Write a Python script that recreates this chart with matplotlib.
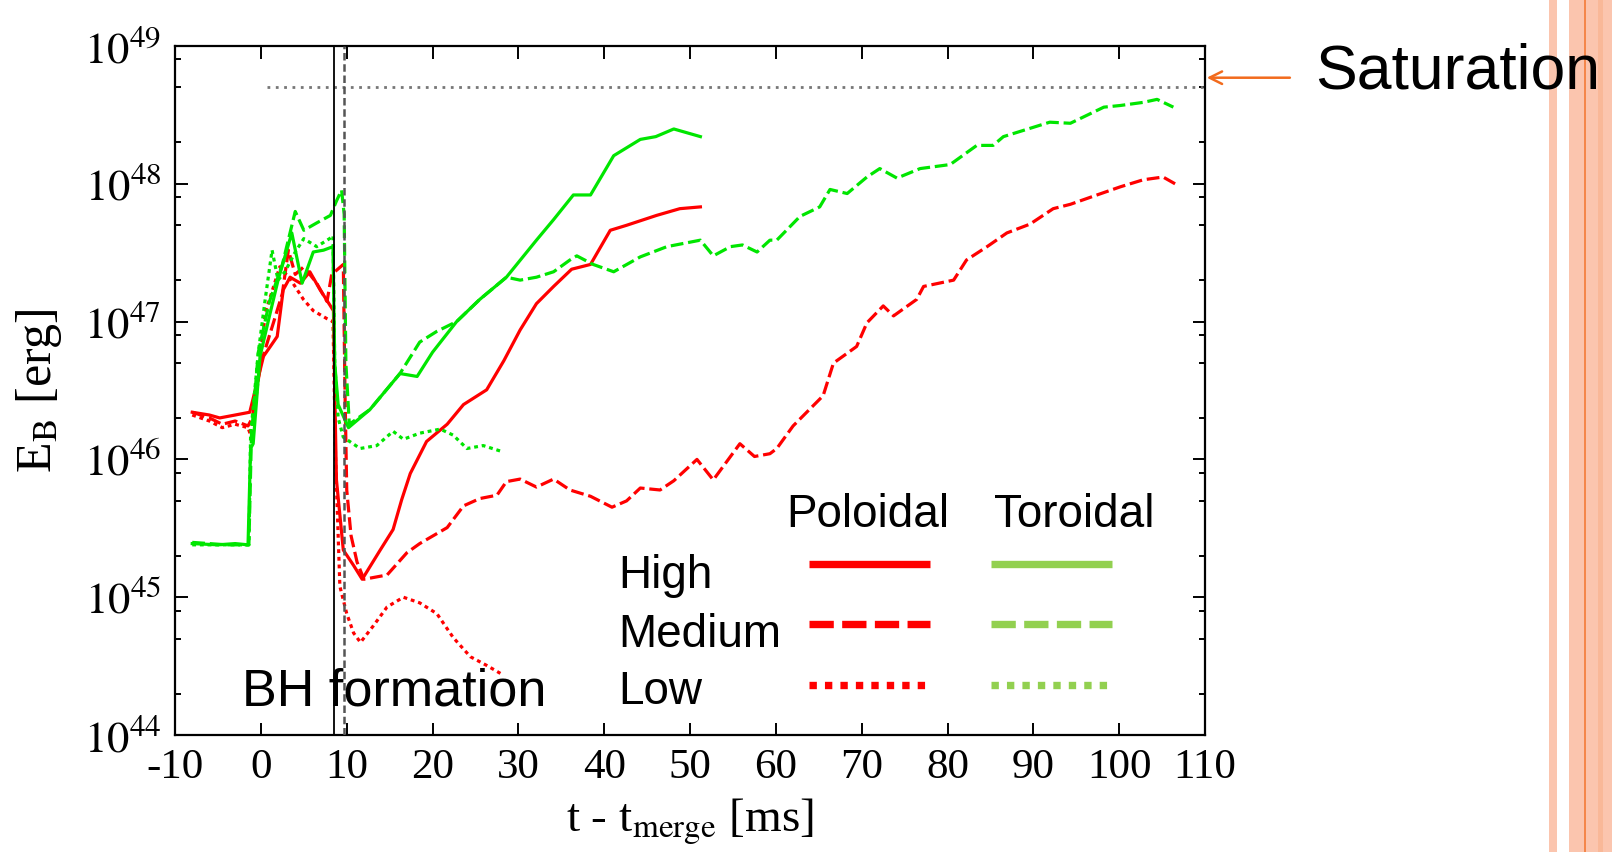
import numpy as np
import matplotlib.pyplot as plt
from matplotlib.patches import Rectangle
from matplotlib.lines import Line2D
from matplotlib.ticker import FixedLocator, LogLocator, NullFormatter

plt.rcParams['mathtext.fontset'] = 'stix'
plt.rcParams['font.family'] = ['Liberation Serif', 'DejaVu Serif']

# Poloidal energy, High / Medium / Low resolution (t in ms, E in erg)
t_pol_high = [-8, -6, -4.8, -3, -1.3, -0.5, 0.3, 1.1, 1.9, 2.6, 3.4, 4.6, 5.7, 6.9, 8.1, 8.45,
              8.6, 8.8, 9.6, 10.8, 11.8, 13.9, 15.4, 16.4, 17.4, 19.3, 21.7, 23.6, 26.3, 28.3,
              30.2, 32.1, 34.1, 36.2, 38.4, 40.7, 42.6, 46.1, 48.8, 51.2]
pol_high = [2.2e46, 2.1e46, 2.0e46, 2.1e46, 2.2e46, 3.5e46, 5.6e46, 6.6e46, 7.8e46, 1.7e47,
            2.1e47, 1.9e47, 2.3e47, 1.7e47, 1.3e47, 1.2e47, 3.2e46, 7.1e45, 2.2e45, 1.7e45,
            1.35e45, 2.2e45, 3.1e45, 5.1e45, 7.9e45, 1.35e46, 1.8e46, 2.5e46, 3.2e46, 5.2e46,
            8.7e46, 1.35e47, 1.8e47, 2.4e47, 2.6e47, 4.6e47, 5.0e47, 5.9e47, 6.6e47, 6.8e47]

t_pol_med = [-8, -6, -4.5, -3, -1.5, -1, 0, 1.5, 2.5, 3.2, 4.0, 5.0, 6.5, 7.7, 8.25, 9.6, 9.8,
             10.0, 10.5, 11.2, 12.0, 14.7, 17.0, 18.5, 21.7, 23.6, 25.5, 27.5, 28.6, 30.2, 32.1,
             34.1, 36.0, 38.4, 40.9, 42.6, 44.2, 46.5, 48.1, 50.8, 52.7, 55.8, 57.5, 59.3, 60.1,
             62.0, 65.5, 66.7, 69.4, 70.6, 72.5, 73.7, 76.4, 77.2, 80.7, 82.2, 84.6, 86.9, 89.6,
             92.3, 94.3, 97.4, 100.1, 102.8, 105.1, 106.5]
pol_med = [2.2e46, 2.0e46, 1.8e46, 1.9e46, 1.75e46, 2.0e46, 5e46, 1e47, 1.6e47, 3.3e47, 2.2e47,
           2.5e47, 1.9e47, 1.4e47, 2.2e47, 2.6e47, 3e46, 6e45, 2.8e45, 1.8e45, 1.35e45, 1.45e45,
           2.1e45, 2.45e45, 3.2e45, 4.6e45, 5.2e45, 5.5e45, 6.9e45, 7.2e45, 6.3e45, 7.2e45,
           6.0e45, 5.4e45, 4.5e45, 5.0e45, 6.2e45, 6.0e45, 7.0e45, 1.0e46, 7.1e45, 1.3e46,
           1.05e46, 1.1e46, 1.2e46, 1.75e46, 2.9e46, 5.0e46, 6.6e46, 9.8e46, 1.3e47, 1.1e47,
           1.45e47, 1.8e47, 2.0e47, 2.8e47, 3.5e47, 4.4e47, 5.1e47, 6.6e47, 7.1e47, 8.3e47,
           9.5e47, 1.07e48, 1.12e48, 1.0e48]

t_pol_low = [-8, -6, -4.5, -3, -1.5, -1.2, -0.5, 0.5, 2.2, 3.5, 4.95, 6.1, 7.7, 8.4, 8.7, 9.2,
             10.0, 10.8, 11.6, 13.1, 14.7, 16.6, 18.5, 20.5, 22.4, 24.4, 26.3, 27.9]
pol_low = [2.1e46, 1.9e46, 1.7e46, 1.8e46, 1.7e46, 1.5e46, 3e46, 1.15e47, 2.5e47, 2.0e47,
           1.45e47, 1.2e47, 1.05e47, 1.0e47, 1e46, 1.2e45, 7.6e44, 5.5e44, 4.7e44, 6.2e44,
           8.5e44, 1.0e45, 9.1e44, 7.6e44, 5.1e44, 3.7e44, 3.2e44, 2.8e44]

# Toroidal energy, High / Medium / Low resolution
t_tor_high = [-8, -5, -3, -1.5, -1.2, -0.9, -0.1, 1.0, 2.0, 3.6, 4.8, 6.1, 7.3, 8.4, 8.6, 9.0,
              10.2, 12.7, 16.2, 18.2, 20.0, 22.8, 25.5, 28.6, 32.1, 34.1, 36.4, 38.4, 41.1,
              44.2, 46.0, 48.1, 51.2]
tor_high = [2.45e45, 2.4e45, 2.45e45, 2.4e45, 1.2e46, 1.3e46, 5.6e46, 1.1e47, 2.0e47, 4.4e47,
            1.9e47, 3.2e47, 3.3e47, 3.5e47, 5e46, 2.5e46, 1.7e46, 2.3e46, 4.2e46, 4.0e46,
            6.0e46, 1.0e47, 1.45e47, 2.1e47, 3.9e47, 5.5e47, 8.3e47, 8.3e47, 1.6e48, 2.1e48,
            2.2e48, 2.5e48, 2.2e48]

t_tor_med = [-8, -4, -1.4, -1.1, -0.3, 1.0, 2.5, 4.0, 5.0, 6.5, 8.1, 8.8, 9.4, 9.7, 9.9, 10.3,
             12.7, 16.2, 18.5, 20.5, 22.8, 25.5, 28.6, 30.2, 32.1, 34.1, 36.0, 36.8, 38.7, 41.1,
             44.2, 47.3, 51.2, 52.7, 54.7, 56.1, 57.8, 59.3, 60.1, 62.8, 65.1, 66.3, 68.3, 70.6,
             72.1, 74.1, 76.8, 80.3, 83.4, 85.3, 86.5, 91.9, 94.3, 98.2, 100.1, 102.8, 104.4,
             106.3]
tor_med = [2.5e45, 2.4e45, 2.4e45, 1.5e46, 6e46, 1.4e47, 2.6e47, 6.3e47, 4.6e47, 5.2e47,
           5.9e47, 7.5e47, 9e47, 6e47, 5e46, 1.8e46, 2.3e46, 4.2e46, 7.1e46, 8.5e46, 1.0e47,
           1.45e47, 2.1e47, 2.0e47, 2.1e47, 2.3e47, 2.8e47, 3.0e47, 2.6e47, 2.3e47, 2.95e47,
           3.5e47, 3.9e47, 3.0e47, 3.5e47, 3.6e47, 3.2e47, 3.9e47, 3.9e47, 5.8e47, 6.8e47,
           9.1e47, 8.5e47, 1.12e48, 1.29e48, 1.1e48, 1.29e48, 1.38e48, 1.9e48, 1.9e48, 2.2e48,
           2.8e48, 2.75e48, 3.6e48, 3.7e48, 3.9e48, 4.1e48, 3.6e48]

t_tor_low = [-8, -4, -1.4, -1.2, -0.3, 0.5, 1.3, 2.0, 2.8, 4.0, 5.0, 6.5, 8.0, 8.4, 8.6, 9.0,
             9.6, 11.55, 13.5, 15.4, 16.6, 18.5, 20.9, 22.4, 24.0, 25.9, 27.9]
tor_low = [2.4e45, 2.4e45, 2.4e45, 1.5e46, 6e46, 1.45e47, 3.3e47, 2.0e47, 2.3e47, 3.2e47,
           4.0e47, 3.5e47, 4.0e47, 4.2e47, 5e46, 2e46, 1.45e46, 1.2e46, 1.26e46, 1.6e46,
           1.4e46, 1.55e46, 1.66e46, 1.5e46, 1.2e46, 1.26e46, 1.15e46]

t_bh = [8.5, 9.7]          # BH formation times
e_sat = 5.0e48             # saturation energy
t_sat_start = 0.7

x_ticks = list(range(-10, 111, 10))
y_decades = [1e44, 1e45, 1e46, 1e47, 1e48, 1e49]
rows = ['High', 'Medium', 'Low']

RED = '#ff0000'
GREEN = '#00e600'
LEG_GREEN = '#92d050'
dashed = (0, (4, 1.5))
dotted = (0, (1.2, 1.2))

fig = plt.figure(figsize=(16.12, 8.52), dpi=100)
ax = fig.add_axes([0.1086, 0.1373, 0.639, 0.8087])

ax.plot(t_pol_high, pol_high, color=RED, lw=2.3)
ax.plot(t_pol_med, pol_med, color=RED, lw=2.3, ls=dashed)
ax.plot(t_pol_low, pol_low, color=RED, lw=2.3, ls=dotted)
ax.plot(t_tor_high, tor_high, color=GREEN, lw=2.3)
ax.plot(t_tor_med, tor_med, color=GREEN, lw=2.3, ls=dashed)
ax.plot(t_tor_low, tor_low, color=GREEN, lw=2.3, ls=dotted)

ax.axvline(t_bh[0], color='black', lw=1.3, zorder=4)
ax.axvline(t_bh[1], color='#555555', lw=1.8, ls=(0, (3, 1.5)), zorder=4)
ax.hlines(e_sat, t_sat_start, 110, color='#777777', lw=2, ls=(0, (1, 2)))

ax.set_yscale('log')
ax.set_xlim(-10, 110)
ax.set_ylim(1e44, 1e49)
ax.xaxis.set_major_locator(FixedLocator(x_ticks))
ax.set_xticklabels([str(v) for v in x_ticks])
ax.yaxis.set_major_locator(FixedLocator(y_decades))
ax.set_yticklabels([r'$10^{%d}$' % int(np.log10(v)) for v in y_decades])
ax.yaxis.set_minor_locator(LogLocator(base=10, subs=[2, 5, 8]))
ax.yaxis.set_minor_formatter(NullFormatter())
ax.tick_params(which='both', direction='in', top=True, right=True, width=1.4)
ax.tick_params(which='major', length=9, pad=10)
ax.tick_params(axis='x', labelsize=31)
ax.tick_params(axis='y', labelsize=32)
ax.tick_params(which='minor', length=4.5)
for s in ax.spines.values():
    s.set_linewidth(1.6)

ax.set_xlabel(r't - t$_{\mathrm{merge}}$ [ms]', fontsize=34)
ax.set_ylabel(r'E$_{\mathrm{B}}$ [erg]', fontsize=36)
ax.xaxis.set_label_coords(0.5, -0.09)
ax.yaxis.set_label_coords(-0.108, 0.5)

# slide overlays
sans = 'Liberation Sans'
fig.text(0.15, 0.1725, 'BH formation', family=sans, fontsize=37.5, va='baseline')
fig.text(0.8158, 0.8964, 'Saturation', family=sans, fontsize=45, va='baseline')
ax.annotate('', xy=(0.7469, 0.9088), xytext=(0.8019, 0.9088), xycoords='figure fraction',
            textcoords='figure fraction',
            arrowprops=dict(arrowstyle='->,head_length=0.9,head_width=0.45', color='#f26b1d', lw=1.8))

fig.text(0.4876, 0.3815, 'Poloidal', family=sans, fontsize=33, va='baseline')
fig.text(0.6166, 0.3815, 'Toroidal', family=sans, fontsize=33, va='baseline')
row_y = [0.3099, 0.2410, 0.1737]
line_y = [0.3384, 0.2676, 0.1963]
styles = ['-', (0, (3.3, 1.14)), (0, (1.0, 1.1))]
for name, ty, ly, st in zip(rows, row_y, line_y, styles):
    fig.text(0.3837, ty, name, family=sans, fontsize=33, va='baseline')
    fig.add_artist(Line2D([0.502, 0.577], [ly, ly], color=RED, lw=5.3, ls=st,
                          solid_capstyle='butt', dash_capstyle='butt'))
    fig.add_artist(Line2D([0.6147, 0.6898], [ly, ly], color=LEG_GREEN, lw=5.3, ls=st,
                          solid_capstyle='butt', dash_capstyle='butt'))

# decorative stripes at the right edge
fig.add_artist(Rectangle((0.9609, 0), 0.0050, 1, color='#fbc5ae', lw=0))
fig.add_artist(Rectangle((0.9733, 0), 0.0267, 1, color='#fbc5ae', lw=0))
fig.add_artist(Rectangle((0.9914, 0), 0.0031, 1, color='#f9b898', lw=0))
fig.add_artist(Rectangle((0.9825, 0), 0.0012, 1, color='#f4874b', lw=0))

fig.savefig('out.png', dpi=100)
